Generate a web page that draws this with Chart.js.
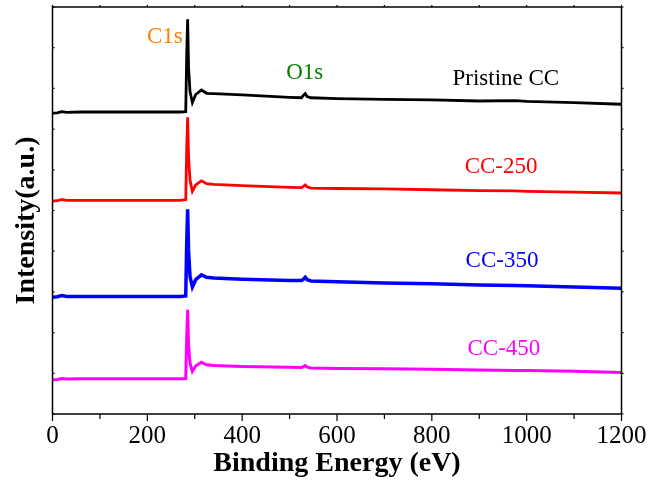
<!DOCTYPE html>
<html>
<head>
<meta charset="utf-8">
<script src="https://cdn.jsdelivr.net/npm/chart.js@4.4.1/dist/chart.umd.min.js"></script>
<style>
  html, body { margin: 0; padding: 0; background: #fff; }
  #wrap { width: 650px; height: 489px; }
</style>
</head>
<body>
<div id="wrap"><canvas id="xps" width="650" height="489"></canvas></div>
<script>
// XPS survey spectra, curves offset vertically (arbitrary units)
const energy = [0, 10, 20, 30, 60, 120, 200, 270, 281, 283, 285, 287, 290, 295, 302, 314, 325, 340, 400, 500, 525, 530, 533, 537, 545, 600, 700, 800, 900, 975, 1000, 1100, 1200];

const pristine = [7.39, 7.40, 7.43, 7.41, 7.42, 7.42, 7.42, 7.42, 7.43, 8.80, 9.70, 8.50, 7.92, 7.65, 7.85, 7.96, 7.88, 7.87, 7.84, 7.78, 7.77, 7.84, 7.87, 7.80, 7.77, 7.75, 7.73, 7.72, 7.69, 7.70, 7.68, 7.65, 7.61];
const cc250 = [5.23, 5.24, 5.27, 5.25, 5.25, 5.25, 5.25, 5.25, 5.27, 6.50, 7.29, 6.30, 5.75, 5.47, 5.63, 5.73, 5.66, 5.64, 5.61, 5.57, 5.56, 5.60, 5.63, 5.58, 5.55, 5.54, 5.53, 5.51, 5.49, 5.48, 5.47, 5.45, 5.43];
const cc350 = [2.87, 2.88, 2.91, 2.89, 2.89, 2.89, 2.89, 2.89, 2.90, 4.20, 5.03, 4.00, 3.38, 3.12, 3.30, 3.42, 3.36, 3.34, 3.31, 3.28, 3.28, 3.32, 3.36, 3.30, 3.27, 3.25, 3.22, 3.20, 3.17, 3.16, 3.15, 3.12, 3.09];
const cc450 = [0.84, 0.85, 0.87, 0.86, 0.865, 0.865, 0.865, 0.865, 0.87, 1.90, 2.56, 1.70, 1.25, 1.05, 1.18, 1.27, 1.21, 1.19, 1.17, 1.15, 1.14, 1.17, 1.19, 1.15, 1.13, 1.12, 1.11, 1.10, 1.08, 1.07, 1.07, 1.05, 1.02];

const seriesNames = ['Pristine CC', 'CC-250', 'CC-350', 'CC-450'];
const seriesColors = ['#000000', '#ff0000', '#0000ff', '#ff00ff'];
const seriesWidths = [2.8, 2.8, 3.5, 3];
const seriesValues = [pristine, cc250, cc350, cc450];

// text labels placed in data coordinates (eV, intensity)
const noteTexts = ['C1s', 'O1s', 'Pristine CC', 'CC-250', 'CC-350', 'CC-450'];
const noteX = [237, 532, 956, 946, 948, 952];
const noteY = [9.27, 8.38, 8.23, 6.07, 3.76, 1.60];
const noteColors = ['#ff8000', '#008000', '#000000', '#ff0000', '#0000ff', '#ff00ff'];

const serif = "'Liberation Serif', 'Times New Roman', serif";

const frame = {
  id: 'frame',
  afterDatasetsDraw(chart) {
    const { ctx, chartArea: a, scales: { x, y } } = chart;
    ctx.save();
    ctx.strokeStyle = '#000';
    ctx.lineWidth = 1.5;
    ctx.strokeRect(a.left, a.top, a.right - a.left, a.bottom - a.top);

    ctx.lineWidth = 1.2;
    ctx.beginPath();
    for (let v = 0; v <= 1200; v += 100) {
      const px = x.getPixelForValue(v);
      const len = v % 200 === 0 ? 7 : 5;
      ctx.moveTo(px, a.bottom);
      ctx.lineTo(px, a.bottom + len);
      ctx.moveTo(px, a.top);
      ctx.lineTo(px, a.top - 2);
    }
    for (let v = 0; v <= 10; v++) {
      const py = y.getPixelForValue(v);
      ctx.moveTo(a.left, py);
      ctx.lineTo(a.left + 2, py);
      ctx.moveTo(a.right, py);
      ctx.lineTo(a.right + 2, py);
    }
    ctx.stroke();

    ctx.font = '23px ' + serif;
    ctx.textAlign = 'center';
    ctx.textBaseline = 'middle';
    noteTexts.forEach((t, i) => {
      ctx.fillStyle = noteColors[i];
      ctx.fillText(t, x.getPixelForValue(noteX[i]), y.getPixelForValue(noteY[i]));
    });

    // y axis title
    ctx.translate(27, (a.top + a.bottom) / 2 + 10);
    ctx.rotate(-Math.PI / 2);
    ctx.font = 'bold 28px ' + serif;
    ctx.fillStyle = '#000';
    ctx.fillText('Intensity(a.u.)', 0, 0);
    ctx.restore();
  }
};

new Chart(document.getElementById('xps').getContext('2d'), {
  type: 'line',
  data: {
    datasets: seriesValues.map((vals, i) => ({
      label: seriesNames[i],
      data: energy.map((e, j) => ({ x: e, y: vals[j] })),
      borderColor: seriesColors[i],
      borderWidth: seriesWidths[i],
      pointRadius: 0,
      tension: 0,
      fill: false
    }))
  },
  options: {
    responsive: false,
    animation: false,
    events: [],
    layout: { padding: { left: 0, top: 7, right: 28.5, bottom: 0 } },
    plugins: {
      legend: { display: false },
      tooltip: { enabled: false }
    },
    scales: {
      x: {
        type: 'linear',
        min: 0,
        max: 1200,
        grid: { display: false, drawTicks: false },
        border: { display: false },
        ticks: {
          stepSize: 200,
          padding: 7,
          color: '#000',
          maxRotation: 0,
          font: { family: serif, size: 25 },
          callback: v => String(v)
        },
        title: {
          display: true,
          text: 'Binding Energy (eV)',
          color: '#000',
          font: { family: serif, size: 28, weight: 'bold' },
          padding: { top: 0, bottom: 8 }
        },
        afterFit: s => {
          s.height = 75;
          s.paddingLeft = 0;
          s.paddingRight = 0;
        }
      },
      y: {
        min: 0,
        max: 10,
        grid: { display: false, drawTicks: false },
        border: { display: false },
        ticks: { display: false, stepSize: 1 },
        afterFit: s => { s.width = 52.5; }
      }
    }
  },
  plugins: [frame]
});
</script>
</body>
</html>
